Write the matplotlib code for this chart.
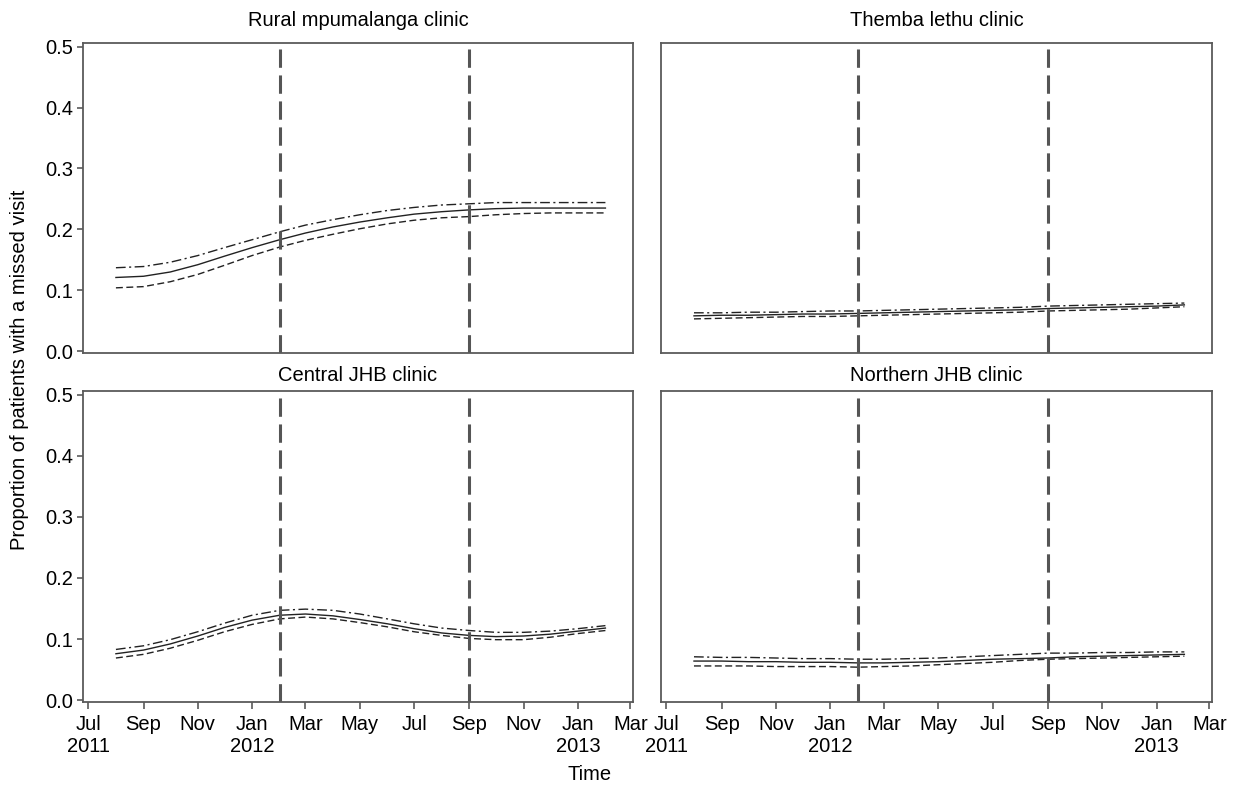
import matplotlib
matplotlib.use("Agg")
import matplotlib.pyplot as plt
import matplotlib.dates as mdates
import numpy as np
import datetime as dt

plt.rcParams['font.family'] = ['Liberation Sans', 'DejaVu Sans']

months = [dt.date(2011, m, 1) for m in range(8, 13)] + \
         [dt.date(2012, m, 1) for m in range(1, 13)] + \
         [dt.date(2013, m, 1) for m in range(1, 3)]

titles = ["Rural mpumalanga clinic", "Themba lethu clinic",
          "Central JHB clinic", "Northern JHB clinic"]

rural_est = [0.121, 0.123, 0.130, 0.142, 0.156, 0.170, 0.183, 0.194, 0.204, 0.212,
             0.219, 0.225, 0.229, 0.232, 0.234, 0.235, 0.235, 0.235, 0.235]
rural_hi = [0.137, 0.139, 0.146, 0.157, 0.170, 0.183, 0.196, 0.207, 0.216, 0.224,
            0.231, 0.236, 0.240, 0.242, 0.244, 0.244, 0.244, 0.244, 0.244]
rural_lo = [0.104, 0.106, 0.114, 0.126, 0.141, 0.157, 0.171, 0.182, 0.192, 0.201,
            0.209, 0.215, 0.219, 0.221, 0.224, 0.226, 0.227, 0.227, 0.227]

themba_est = [0.058, 0.059, 0.059, 0.060, 0.061, 0.061, 0.062, 0.063, 0.064, 0.065,
              0.066, 0.067, 0.068, 0.070, 0.071, 0.072, 0.073, 0.074, 0.076]
themba_hi = [0.063, 0.063, 0.064, 0.064, 0.065, 0.066, 0.066, 0.067, 0.068, 0.069,
             0.070, 0.071, 0.072, 0.074, 0.075, 0.076, 0.077, 0.078, 0.079]
themba_lo = [0.053, 0.054, 0.055, 0.056, 0.057, 0.057, 0.058, 0.059, 0.060, 0.061,
             0.062, 0.063, 0.064, 0.066, 0.067, 0.068, 0.069, 0.071, 0.073]

central_est = [0.076, 0.082, 0.092, 0.105, 0.119, 0.131, 0.139, 0.141, 0.138, 0.132,
               0.125, 0.117, 0.110, 0.106, 0.104, 0.105, 0.108, 0.113, 0.118]
central_hi = [0.083, 0.089, 0.099, 0.112, 0.126, 0.139, 0.147, 0.149, 0.147, 0.141,
              0.133, 0.125, 0.118, 0.114, 0.111, 0.111, 0.113, 0.117, 0.122]
central_lo = [0.069, 0.075, 0.085, 0.098, 0.112, 0.124, 0.133, 0.136, 0.133, 0.127,
              0.120, 0.112, 0.106, 0.101, 0.099, 0.099, 0.103, 0.109, 0.114]

northern_est = [0.064, 0.064, 0.063, 0.063, 0.062, 0.062, 0.061, 0.061, 0.062, 0.063,
                0.065, 0.067, 0.068, 0.069, 0.071, 0.072, 0.073, 0.074, 0.075]
northern_hi = [0.071, 0.070, 0.070, 0.069, 0.068, 0.068, 0.067, 0.067, 0.068, 0.069,
               0.071, 0.073, 0.075, 0.077, 0.077, 0.078, 0.078, 0.079, 0.079]
northern_lo = [0.056, 0.056, 0.056, 0.055, 0.055, 0.055, 0.054, 0.055, 0.056, 0.058,
               0.060, 0.062, 0.065, 0.067, 0.068, 0.069, 0.070, 0.071, 0.072]

series = [(rural_est, rural_hi, rural_lo), (themba_est, themba_hi, themba_lo),
          (central_est, central_hi, central_lo), (northern_est, northern_hi, northern_lo)]

event_dates = [dt.date(2012, 2, 1), dt.date(2012, 9, 1)]

tick_dates = [dt.date(2011, 7, 1), dt.date(2011, 9, 1), dt.date(2011, 11, 1),
              dt.date(2012, 1, 1), dt.date(2012, 3, 1), dt.date(2012, 5, 1),
              dt.date(2012, 7, 1), dt.date(2012, 9, 1), dt.date(2012, 11, 1),
              dt.date(2013, 1, 1), dt.date(2013, 3, 1)]
tick_labels = ["Jul\n2011", "Sep", "Nov", "Jan\n2012", "Mar", "May", "Jul", "Sep",
               "Nov", "Jan\n2013", "Mar"]

yticks = [0.0, 0.1, 0.2, 0.3, 0.4, 0.5]

fig = plt.figure(figsize=(12.34, 7.88), dpi=100)
W, H = 1234, 788
boxes = [(83, 43, 633, 353), (661, 43, 1212, 353),
         (83, 391, 633, 702), (661, 391, 1212, 702)]

FS = 14.5
spine_c = '#5a5a5a'
for i, (l, t, r, b) in enumerate(boxes):
    ax = fig.add_axes([l / W, 1 - b / H, (r - l) / W, (b - t) / H])
    est, hi, lo = series[i]
    ax.plot(months, hi, color='#222222', lw=1.0, ls=(0, (7, 2.5, 1.5, 2.5)))
    ax.plot(months, est, color='#222222', lw=1.0, ls='-')
    ax.plot(months, lo, color='#222222', lw=1.0, ls=(0, (5, 2.5)))
    for d in event_dates:
        ax.axvline(d, color='#555555', lw=2.2, ls=(0, (6, 2.5)))
    ax.set_xlim(dt.date(2011, 6, 25), dt.date(2013, 3, 4))
    ax.set_ylim(-0.003, 0.506)
    for s in ax.spines.values():
        s.set_color(spine_c)
        s.set_linewidth(1.3)
    ax.set_title(titles[i], fontsize=FS, pad=(12 if i < 2 else 7))
    if i % 2 == 0:
        ax.set_yticks(yticks)
        ax.set_yticklabels([f"{v:.1f}" for v in yticks])
        ax.tick_params(axis='y', labelsize=FS, length=4, width=1.2, color=spine_c, pad=3)
    else:
        ax.set_yticks([])
    if i >= 2:
        ax.set_xticks(tick_dates)
        ax.set_xticklabels(tick_labels)
        ax.tick_params(axis='x', labelsize=FS, length=5, width=1.2, color=spine_c, pad=4)
        for lab in ax.get_xticklabels():
            lab.set_verticalalignment('top')
            lab.set_linespacing(1.2)
    else:
        ax.set_xticks([])

fig.text(20 / W, 1 - 370 / H, "Proportion of patients with a missed visit",
         rotation=90, ha='center', va='center', fontsize=FS)
fig.text(590 / W, 1 - 775 / H, "Time", ha='center', va='center', fontsize=FS)

fig.savefig("out.png", dpi=100)
